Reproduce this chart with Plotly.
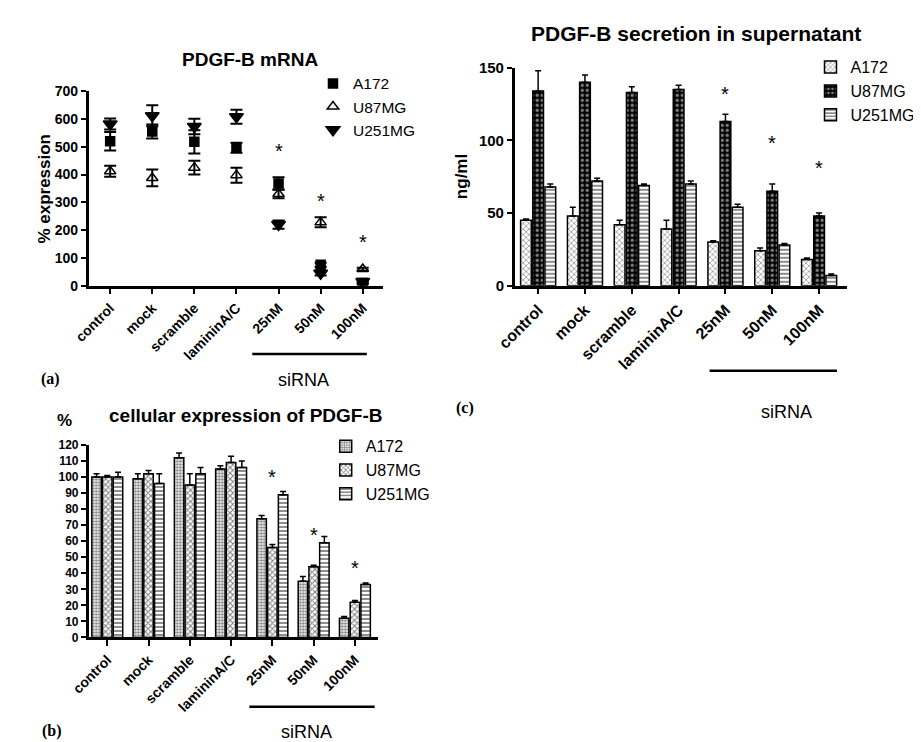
import plotly.graph_objects as go

categories = ["control", "mock", "scramble", "lamininA/C", "25nM", "50nM", "100nM"]
lines = ["A172", "U87MG", "U251MG"]

# Panel (a): PDGF-B mRNA (% expression)
mrna_a172 = [520, 555, 518, 497, 368, 75, 10]
mrna_a172_err = [33, 25, 42, 18, 22, 8, 5]
mrna_u87 = [412, 388, 425, 398, 330, 228, 60]
mrna_u87_err = [20, 30, 25, 27, 15, 18, 5]
mrna_u251 = [582, 612, 573, 608, 220, 45, 15]
mrna_u251_err = [20, 38, 28, 25, 15, 8, 5]
mrna_star = [486, 306, 158]

# Panel (b): cellular expression of PDGF-B (%)
cell_a172 = [100, 99, 112, 105, 74, 35, 12]
cell_a172_err = [2, 3, 3, 2, 2, 3, 1]
cell_u87 = [100, 102, 95, 109, 56, 44, 22]
cell_u87_err = [1, 2, 7, 4, 2, 1, 1]
cell_u251 = [100, 96, 102, 106, 89, 59, 33]
cell_u251_err = [3, 6, 4, 4, 2, 4, 1]
cell_star = [100, 64, 43]

# Panel (c): PDGF-B secretion in supernatant (ng/ml)
sec_a172 = [45, 48, 42, 39, 30, 24, 18]
sec_a172_err = [1, 6, 3, 6, 1, 2, 1]
sec_u87 = [134, 140, 133, 135, 113, 65, 48]
sec_u87_err = [14, 5, 4, 3, 5, 5, 2]
sec_u251 = [68, 72, 69, 70, 54, 28, 7]
sec_u251_err = [2, 2, 1, 2, 2, 1, 1]
sec_star = [132, 98, 81]

W, H = 921, 742
FONT = "Liberation Sans, Arial, sans-serif"
SERIF = "Liberation Serif, Times New Roman, serif"
xs = list(range(len(categories)))

def px(x):
    return x / W

def py(y):
    return 1 - y / H

fig = go.Figure()

# ---------- Panel (a) ----------
sym = ["square", "triangle-up-open", "triangle-down"]
msz = [9, 10, 12]
for name, vals, errs, s, sz in zip(lines, [mrna_a172, mrna_u87, mrna_u251],
                                  [mrna_a172_err, mrna_u87_err, mrna_u251_err], sym, msz):
    fig.add_trace(go.Scatter(
        x=xs, y=vals, mode="markers", name=name, xaxis="x", yaxis="y",
        marker=dict(symbol=s, size=sz, color="black", line=dict(color="black", width=1.5)),
        error_y=dict(type="data", array=errs, visible=True, color="black", thickness=2, width=6),
        legend="legend", showlegend=True))

# ---------- Bar panels ----------
def patterns(panel):
    if panel == "c":
        return [
            dict(shape="x", fgcolor="black", bgcolor="white", size=4, solidity=0.3),
            dict(shape=".", fgcolor="white", bgcolor="black", size=5, solidity=0.35),
            dict(shape="-", fgcolor="black", bgcolor="white", size=4, solidity=0.45),
        ]
    return [
        dict(shape=".", fgcolor="black", bgcolor="white", size=3, solidity=0.5),
        dict(shape="x", fgcolor="black", bgcolor="white", size=4, solidity=0.45),
        dict(shape="-", fgcolor="black", bgcolor="white", size=4, solidity=0.45),
    ]

for name, vals, errs, pat in zip(lines, [cell_a172, cell_u87, cell_u251],
                                 [cell_a172_err, cell_u87_err, cell_u251_err], patterns("b")):
    fig.add_trace(go.Bar(
        x=xs, y=vals, name=name, xaxis="x2", yaxis="y2", offsetgroup="b" + name,
        marker=dict(color="white", line=dict(color="black", width=1.5), pattern=pat),
        error_y=dict(type="data", array=errs, arrayminus=[0] * len(errs), symmetric=False,
                     visible=True, color="black", thickness=1.5, width=3),
        legend="legend3"))

for name, vals, errs, pat in zip(lines, [sec_a172, sec_u87, sec_u251],
                                 [sec_a172_err, sec_u87_err, sec_u251_err], patterns("c")):
    fig.add_trace(go.Bar(
        x=xs, y=vals, name=name, xaxis="x3", yaxis="y3", offsetgroup="c" + name,
        marker=dict(color="white", line=dict(color="black", width=1.5), pattern=pat),
        error_y=dict(type="data", array=errs, arrayminus=[0] * len(errs), symmetric=False,
                     visible=True, color="black", thickness=1.5, width=3),
        legend="legend2"))

def xaxis(domain, rng, anchor, fs):
    return dict(domain=domain, range=rng, anchor=anchor, tickvals=xs, ticktext=categories,
                tickangle=-45, ticks="outside", ticklen=6, tickwidth=2, tickcolor="black",
                showline=True, linewidth=2.5, linecolor="black", showgrid=False, zeroline=False,
                tickfont=dict(family=FONT, size=fs, color="black", weight="bold"))

def yaxis(domain, rng, anchor, dtick, fs):
    return dict(domain=domain, range=rng, anchor=anchor, dtick=dtick, tick0=0,
                ticks="outside", ticklen=5, tickwidth=2, tickcolor="black",
                showline=True, linewidth=2.5, linecolor="black", showgrid=False, zeroline=False,
                tickfont=dict(family=FONT, size=fs, color="black", weight="bold"))

legend_common = dict(bgcolor="rgba(0,0,0,0)", borderwidth=0, xanchor="left", yanchor="top",
                     tracegroupgap=0, itemclick=False)

fig.update_layout(
    width=W, height=H, margin=dict(l=0, r=0, t=0, b=0),
    paper_bgcolor="white", plot_bgcolor="white",
    barmode="group", bargap=0.22, bargroupgap=0.12,
    showlegend=True,
    xaxis=xaxis([px(63), px(363)], [-0.51, 6.47], "y", 14),
    yaxis=yaxis([py(275), py(76)], [0, 700], "x", 100, 14),
    xaxis2=xaxis([px(63), px(358)], [-0.45, 6.55], "y2", 14),
    yaxis2=yaxis([py(635), py(438)], [0, 120], "x2", 10, 12),
    xaxis3=xaxis([px(498), px(837)], [-0.5, 6.59], "y3", 16),
    yaxis3=yaxis([py(275), py(52)], [0, 150], "x3", 50, 15),
    legend=dict(legend_common, x=px(292), y=py(51),
                font=dict(family=FONT, size=15.5, color="black")),
    legend2=dict(legend_common, x=px(800), y=py(34),
                 font=dict(family=FONT, size=16, color="black")),
    legend3=dict(legend_common, x=px(305), y=py(422),
                 font=dict(family=FONT, size=16, color="black")),
)

ann = []
def text(x, y, t, size, bold=False, family=FONT, angle=0):
    ann.append(dict(x=px(x), y=py(y), xref="paper", yref="paper", text=t, showarrow=False,
                    xanchor="center", yanchor="middle", textangle=angle,
                    font=dict(family=family, size=size, color="black",
                              weight="bold" if bold else "normal")))

text(228, 44, "PDGF-B mRNA", 19, True)
text(683, 17, "PDGF-B secretion in supernatant", 21, True)
text(223, 408, "cellular expression of PDGF-B", 19, True)
text(18, 176, "% expression", 17, True, angle=-90)
text(443, 163, "ng/ml", 17, True, angle=-90)
text(38, 413, "%", 17, True)
text(24, 370, "(a)", 16, True, SERIF)
text(26, 731, "(b)", 16, True, SERIF)
text(447, 400, "(c)", 16, True, SERIF)
text(282, 371, "siRNA", 18)
text(285, 732, "siRNA", 18)
text(775, 404, "siRNA", 18)

for xa, ya, stars in [("x", "y", mrna_star), ("x2", "y2", cell_star), ("x3", "y3", sec_star)]:
    for i, v in enumerate(stars):
        ann.append(dict(x=4 + i, y=v, xref=xa, yref=ya, text="*", showarrow=False,
                        yanchor="middle", font=dict(family=FONT, size=20, color="black")))

fig.update_layout(annotations=ann)

shapes = []
for x0, x1, y in [(230, 347, 345), (227, 355, 706), (697, 827, 362)]:
    shapes.append(dict(type="line", xref="paper", yref="paper", x0=px(x0), x1=px(x1),
                       y0=py(y), y1=py(y), line=dict(color="black", width=2.5)))
fig.update_layout(shapes=shapes)

fig.write_html("out.html")
